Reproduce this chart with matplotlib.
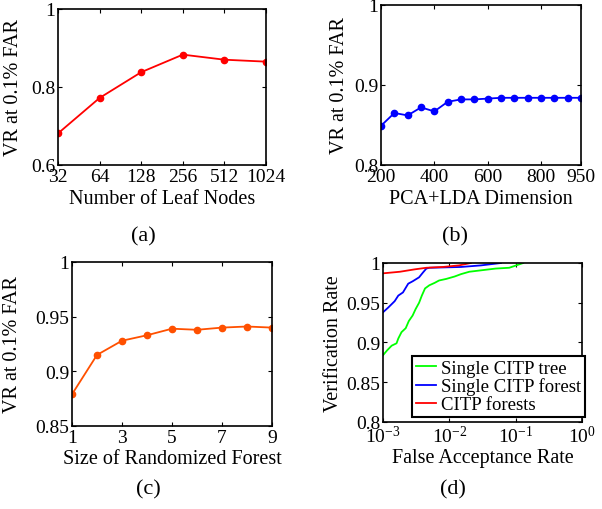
import numpy as np
import matplotlib
matplotlib.use('Agg')
import matplotlib.pyplot as plt

plt.rcParams['font.family'] = ['Liberation Serif', 'DejaVu Serif']
plt.rcParams['mathtext.fontset'] = 'custom'
plt.rcParams['mathtext.rm'] = 'Liberation Serif'
plt.rcParams['font.size'] = 14
plt.rcParams['xtick.direction'] = 'in'
plt.rcParams['ytick.direction'] = 'in'
plt.rcParams['xtick.top'] = True
plt.rcParams['ytick.right'] = True
plt.rcParams['xtick.major.size'] = 3
plt.rcParams['ytick.major.size'] = 3
plt.rcParams['xtick.major.pad'] = 2
plt.rcParams['ytick.major.pad'] = 2
plt.rcParams['axes.linewidth'] = 1.2

# (a) leaf nodes
leaf_nodes = [32, 64, 128, 256, 512, 1024]
vr_leaf = [0.681, 0.772, 0.838, 0.883, 0.870, 0.865]

# (b) PCA+LDA dimension
dims = list(range(200, 951, 50))
vr_dim = [0.849, 0.865, 0.862, 0.872, 0.867, 0.879, 0.882, 0.882,
          0.883, 0.884, 0.884, 0.884, 0.884, 0.884, 0.884, 0.884]

# (c) forest size
forest_size = [1, 2, 3, 4, 5, 6, 7, 8, 9]
vr_forest = [0.879, 0.915, 0.928, 0.933, 0.939, 0.938, 0.940, 0.941, 0.940]

# (d) ROC curves
far_tree = [1.0e-3, 1.15e-3, 1.35e-3, 1.6e-3, 1.7e-3, 1.9e-3, 2.2e-3, 2.45e-3,
            2.8e-3, 3.1e-3, 3.5e-3, 3.85e-3, 4.3e-3, 5.0e-3, 6.0e-3, 7.0e-3,
            9.0e-3, 1.2e-2, 1.5e-2, 2.0e-2, 5.0e-2, 8.0e-2, 1.3e-1]
vr_tree = [0.884, 0.890, 0.896, 0.899, 0.905, 0.913, 0.918, 0.927, 0.934,
           0.942, 0.950, 0.959, 0.968, 0.972, 0.975, 0.978, 0.980, 0.983,
           0.986, 0.989, 0.993, 0.994, 1.0]
far_single = [1.0e-3, 1.2e-3, 1.5e-3, 1.7e-3, 2.0e-3, 2.4e-3, 2.8e-3, 3.5e-3,
              4.0e-3, 4.5e-3, 5.0e-3, 1.5e-2, 3.0e-2, 6.0e-2]
vr_single = [0.938, 0.944, 0.952, 0.959, 0.963, 0.974, 0.977, 0.982, 0.988,
             0.993, 0.994, 0.995, 0.997, 1.0]
far_forests = [1.0e-3, 1.8e-3, 3.0e-3, 4.5e-3, 8.0e-3, 1.4e-2, 2.1e-2]
vr_forests = [0.987, 0.989, 0.992, 0.994, 0.995, 0.997, 1.0]

fig = plt.figure(figsize=(6.02, 5.10), dpi=100)
W, H = 602.0, 510.0
LABEL_FS = 14.5


def box(x0, y0, x1, y1):
    return [x0 / W, 1 - y1 / H, (x1 - x0) / W, (y1 - y0) / H]


def labels(ax, xlabel, ylabel, x0, y0, x1, y1, ylab_x, xlab_y):
    # place axis label centres at given pixel positions
    ax.set_xlabel(xlabel, fontsize=LABEL_FS, va='center')
    ax.set_ylabel(ylabel, fontsize=LABEL_FS, va='center')
    ax.xaxis.set_label_coords(0.5, (y1 - xlab_y) / (y1 - y0))
    ax.yaxis.set_label_coords((ylab_x - x0) / (x1 - x0), 0.5)


# (a)
pa = (58, 10, 266, 166)
ax = fig.add_axes(box(*pa))
ax.plot(leaf_nodes, vr_leaf, color='red', marker='o', markersize=4.5, linewidth=1.3)
ax.set_xscale('log', base=2)
ax.set_xlim(32, 1024)
ax.set_xticks(leaf_nodes)
ax.set_xticklabels([str(v) for v in leaf_nodes])
ax.minorticks_off()
ax.set_ylim(0.6, 1)
ax.set_yticks([0.6, 0.8, 1])
ax.set_yticklabels(['0.6', '0.8', '1'])
labels(ax, 'Number of Leaf Nodes', 'VR at 0.1% FAR', *pa, 13, 200)
fig.text(143 / W, 1 - 237 / H, '(a)', ha='center', va='center', fontsize=16)

# (b)
pb = (381, 6, 581, 166)
ax = fig.add_axes(box(*pb))
ax.plot(dims, vr_dim, color='blue', marker='o', markersize=4.5, linewidth=1.3)
ax.set_xlim(200, 950)
ax.set_xticks([200, 400, 600, 800, 950])
ax.set_ylim(0.8, 1)
ax.set_yticks([0.8, 0.9, 1])
ax.set_yticklabels(['0.8', '0.9', '1'])
labels(ax, 'PCA+LDA Dimension', 'VR at 0.1% FAR', *pb, 339, 200)
fig.text(455 / W, 1 - 237 / H, '(b)', ha='center', va='center', fontsize=16)

# (c)
pc = (72, 263, 272, 427)
ax = fig.add_axes(box(*pc))
ax.plot(forest_size, vr_forest, color='#ff5000', marker='o', markersize=4.5, linewidth=1.3)
ax.set_xlim(1, 9)
ax.set_xticks([1, 3, 5, 7, 9])
ax.set_ylim(0.85, 1)
ax.set_yticks([0.85, 0.9, 0.95, 1])
ax.set_yticklabels(['0.85', '0.9', '0.95', '1'])
labels(ax, 'Size of Randomized Forest', 'VR at 0.1% FAR', *pc, 13, 460)
fig.text(148 / W, 1 - 490 / H, '(c)', ha='center', va='center', fontsize=16)

# (d)
pd_ = (383, 264, 582, 423)
ax = fig.add_axes(box(*pd_))
ax.plot(far_tree, vr_tree, color='#00ff00', linewidth=1.3, label='Single CITP tree')
ax.plot(far_single, vr_single, color='blue', linewidth=1.3, label='Single CITP forest')
ax.plot(far_forests, vr_forests, color='red', linewidth=1.3, label='CITP forests')
ax.set_xscale('log')
ax.set_xlim(1e-3, 1)
ax.minorticks_off()
ax.set_ylim(0.8, 1)
ax.set_yticks([0.8, 0.85, 0.9, 0.95, 1])
ax.set_yticklabels(['0.8', '0.85', '0.9', '0.95', '1'])
labels(ax, 'False Acceptance Rate', 'Verification Rate', *pd_, 334, 459)
leg = ax.legend(loc='lower right', bbox_to_anchor=(1.015, 0.03), fontsize=13.5,
                frameon=True, fancybox=False, edgecolor='black', framealpha=1,
                handlelength=1.1, handletextpad=0.25, borderpad=0.2,
                labelspacing=0.05, borderaxespad=0)
leg.get_frame().set_linewidth(1.5)
fig.text(453 / W, 1 - 490 / H, '(d)', ha='center', va='center', fontsize=16)

fig.savefig('out.png', dpi=100)
